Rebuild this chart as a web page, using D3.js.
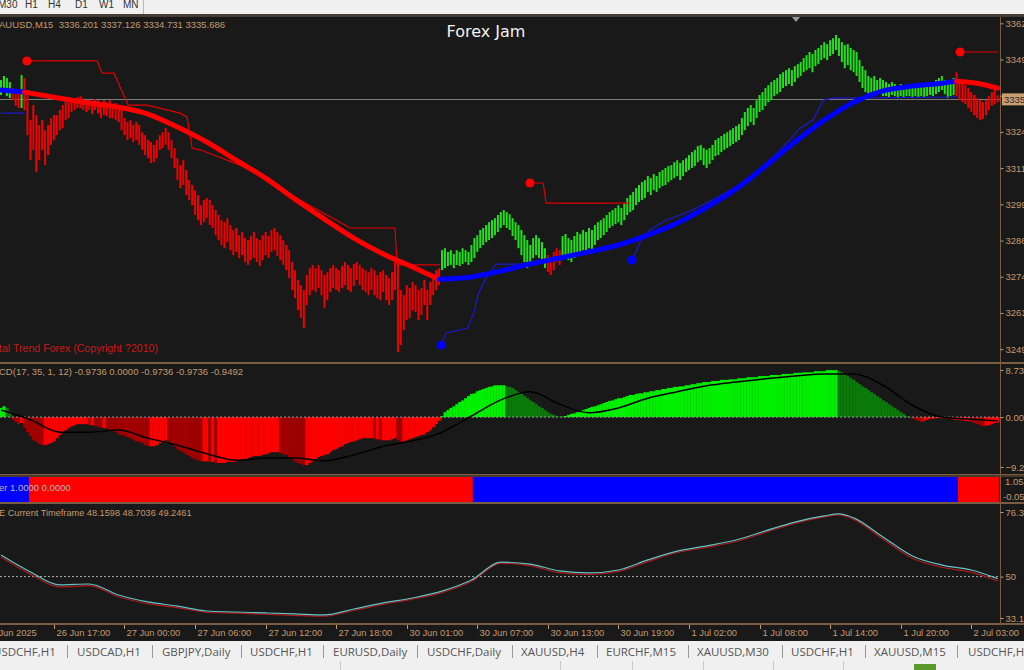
<!DOCTYPE html>
<html><head><meta charset="utf-8">
<script src="https://cdn.jsdelivr.net/npm/d3@7"></script>
<style>body{margin:0;background:#f0f0f0;overflow:hidden}svg{display:block}</style>
</head><body><svg id="c" width="1024" height="670"></svg>
<script>
// ---------------- DATA ----------------
const symbolInfo = "AUUSD,M15  3336.201 3337.126 3334.731 3335.686";
const lastPrice = 3335.686;
const barHigh = [3342.4,3343.8,3343.1,3341.7,3339.6,3338.2,3338.9,3344.1,3343.1,3337.2,
3328.5,3333.7,3330.2,3326.8,3328.5,3325.0,3326.8,3329.2,3330.2,3330.2,
3332.0,3333.7,3335.4,3334.7,3336.1,3335.8,3336.5,3336.8,3336.1,3335.4,
3335.4,3334.7,3335.8,3335.4,3334.4,3335.4,3334.7,3335.4,3334.1,3334.4,
3333.7,3332.0,3329.2,3327.8,3328.5,3326.8,3327.8,3326.8,3324.3,3323.3,
3321.6,3320.9,3319.9,3321.6,3323.3,3324.3,3325.7,3324.3,3321.6,3318.8,
3315.3,3312.9,3314.6,3311.2,3307.7,3306.0,3304.2,3302.5,3299.0,3300.8,
3301.5,3300.8,3299.0,3297.3,3295.6,3293.8,3293.1,3294.5,3292.1,3290.4,
3291.1,3288.6,3289.7,3287.6,3286.9,3288.3,3289.7,3287.6,3286.9,3288.6,
3289.7,3288.3,3290.4,3291.1,3289.7,3288.6,3286.9,3285.2,3283.4,3279.3,
3276.5,3273.1,3271.3,3269.6,3274.8,3277.2,3278.3,3277.2,3278.3,3276.5,
3274.8,3275.8,3277.2,3278.3,3277.2,3276.5,3277.9,3279.3,3278.3,3277.2,
3278.6,3279.3,3278.3,3277.2,3276.5,3275.8,3277.2,3276.5,3274.8,3275.8,
3276.5,3274.8,3273.7,3275.8,3279.3,3280.0,3269.6,3267.8,3271.3,3270.3,
3272.4,3271.3,3269.6,3270.3,3273.1,3269.6,3272.4,3274.8,3276.5,3277.2,
3283.4,3284.1,3282.8,3283.4,3282.1,3283.4,3282.8,3284.1,3283.4,3282.8,
3285.2,3287.6,3288.6,3290.4,3291.1,3292.1,3293.1,3293.8,3294.5,3295.6,
3296.6,3297.3,3296.6,3295.9,3294.5,3293.1,3292.1,3290.4,3288.6,3286.9,
3285.2,3287.6,3288.6,3287.6,3286.2,3284.1,3281.7,3280.7,3282.8,3284.1,
3283.4,3288.3,3289.0,3287.6,3286.9,3288.3,3289.7,3289.0,3290.4,3289.7,
3291.1,3290.4,3292.1,3293.1,3293.8,3294.5,3295.6,3296.6,3297.3,3298.0,
3299.0,3298.0,3299.7,3301.5,3302.5,3303.6,3304.9,3306.0,3307.0,3307.7,
3309.1,3308.4,3309.8,3309.1,3310.5,3311.2,3311.9,3312.6,3312.9,3313.9,
3314.6,3313.6,3314.6,3315.3,3316.4,3317.4,3318.2,3319.5,3319.9,3318.8,
3318.2,3318.8,3319.9,3321.6,3322.3,3323.0,3323.7,3324.3,3325.0,3325.7,
3326.4,3327.1,3329.2,3331.3,3332.7,3333.7,3332.7,3335.4,3337.2,3338.2,
3339.6,3340.6,3341.7,3342.4,3343.1,3344.4,3345.1,3345.8,3346.5,3345.8,
3347.2,3347.9,3348.6,3350.0,3351.0,3352.1,3351.4,3352.8,3353.5,3354.5,
3355.5,3354.8,3356.2,3356.9,3358.0,3356.9,3355.5,3354.5,3354.8,3353.5,
3352.8,3352.1,3349.3,3347.2,3345.8,3343.8,3343.1,3343.8,3342.4,3343.1,
3342.4,3341.7,3341.0,3341.7,3341.0,3340.3,3341.0,3340.3,3340.6,3341.0,
3340.3,3341.0,3340.6,3341.0,3340.3,3340.6,3341.3,3341.0,3342.4,3343.1,
3343.8,3342.4,3341.0,3342.4,3343.1,3345.1,3342.4,3341.7,3340.6,3339.6,
3338.2,3337.2,3336.1,3335.4,3334.7,3335.4,3336.8,3338.2,3338.9,3337.1];
const barLow = [3337.2,3338.2,3336.8,3336.1,3335.4,3333.4,3332.7,3332.7,3332.0,3323.3,
3314.6,3318.2,3310.5,3314.6,3318.2,3312.9,3316.4,3319.9,3321.6,3323.3,
3325.0,3325.7,3328.5,3329.2,3331.3,3332.0,3332.7,3332.7,3332.0,3331.3,
3332.0,3330.6,3332.0,3330.9,3329.2,3330.2,3329.9,3329.2,3329.2,3328.5,
3327.8,3325.0,3323.3,3321.6,3322.3,3320.9,3321.6,3319.9,3318.2,3316.4,
3315.3,3313.6,3313.9,3315.3,3318.2,3318.8,3319.9,3318.2,3315.3,3311.9,
3307.7,3304.9,3306.0,3302.5,3300.8,3299.0,3295.6,3293.8,3292.1,3293.1,
3294.5,3292.1,3291.1,3288.6,3286.9,3285.2,3284.1,3286.2,3283.4,3281.7,
3282.8,3280.7,3281.7,3279.3,3278.3,3280.0,3280.7,3279.3,3277.9,3280.0,
3281.7,3280.7,3282.8,3283.4,3281.4,3280.0,3278.3,3276.5,3273.7,3269.6,
3266.8,3262.6,3259.9,3256.4,3264.4,3267.8,3269.6,3268.9,3270.3,3267.8,
3263.3,3266.1,3268.9,3270.3,3269.6,3268.9,3270.3,3271.3,3269.6,3268.9,
3271.0,3273.1,3271.3,3269.6,3268.9,3267.8,3269.6,3267.8,3266.8,3266.1,
3268.9,3266.1,3264.4,3266.1,3269.6,3248.1,3250.5,3255.7,3259.2,3259.9,
3262.6,3262.0,3259.2,3260.9,3264.4,3259.2,3264.4,3267.8,3269.6,3271.3,
3276.5,3277.2,3277.9,3278.3,3277.2,3278.3,3277.9,3278.6,3279.3,3278.3,
3279.3,3280.7,3282.8,3284.1,3285.2,3286.2,3286.9,3287.6,3288.6,3289.7,
3291.1,3292.1,3291.1,3290.4,3288.3,3286.9,3284.1,3281.7,3279.3,3277.2,
3278.3,3280.7,3281.7,3280.7,3279.3,3277.2,3275.8,3274.8,3276.5,3279.3,
3278.3,3280.7,3281.7,3280.0,3279.3,3280.7,3282.1,3282.8,3283.4,3282.8,
3284.1,3283.4,3285.2,3286.9,3287.6,3288.6,3289.7,3291.1,3291.8,3292.5,
3293.1,3292.1,3293.8,3295.6,3296.6,3297.3,3299.0,3300.1,3300.8,3301.5,
3303.6,3302.5,3304.2,3303.6,3304.9,3305.6,3306.0,3307.0,3307.7,3308.4,
3309.1,3307.7,3309.1,3310.5,3311.2,3311.9,3312.6,3313.9,3314.6,3312.9,
3311.9,3313.3,3314.6,3316.0,3316.4,3317.4,3318.2,3318.8,3319.5,3320.2,
3320.9,3321.6,3323.3,3325.0,3326.4,3327.8,3326.8,3329.2,3331.3,3332.0,
3333.4,3334.7,3335.4,3336.8,3337.5,3338.2,3339.6,3340.3,3341.0,3340.3,
3341.7,3343.1,3343.8,3345.1,3345.8,3346.5,3345.1,3347.2,3347.9,3349.3,
3350.0,3349.3,3350.7,3351.4,3352.8,3350.7,3348.6,3346.5,3347.6,3345.8,
3345.1,3343.8,3341.7,3339.6,3338.2,3336.8,3337.2,3337.9,3337.2,3337.5,
3336.8,3336.8,3336.5,3337.2,3336.8,3336.1,3336.8,3336.5,3336.8,3336.8,
3336.1,3336.8,3336.5,3336.8,3336.5,3336.8,3337.2,3336.8,3337.5,3338.2,
3338.9,3337.5,3336.1,3336.8,3337.2,3336.8,3335.4,3334.7,3334.1,3332.7,
3331.3,3330.2,3329.2,3328.5,3328.9,3330.2,3332.0,3333.4,3334.0,3334.7];
// bar trend colour runs [from, to, dir]
const barTrend = [[0,3,"up"],[4,6,"dn"],[7,7,"up"],[8,149,"dn"],[150,185,"up"],[186,190,"dn"],[191,324,"up"],[325,339,"dn"]];
// moving average (thick line)
const maIdx = [0,8,20,30,40,50,60,70,80,90,100,110,120,130,140,149,160,170,180,190,200,210,220,230,240,250,260,270,280,290,300,310,320,325,332,339];
const maVal = [3338.9,3338.2,3336.1,3334.4,3333.0,3330.6,3326.1,3320.9,3314.6,3308.4,3301.1,3294.2,3287.6,3282.1,3277.6,3273.3,3274.1,3276.2,3278.6,3280.7,3282.8,3285.2,3288.6,3292.8,3298.3,3304.6,3312.6,3320.9,3328.5,3334.7,3338.6,3340.3,3341.3,3342.0,3341.3,3339.6];
const maTrend = [[0,8,"up"],[8,149,"dn"],[149,325,"up"],[325,339,"dn"]];
// trailing stop lines
const redStop1Idx = [8.8,32.7,34.4,38.4,43.2,49.7,60.9,63.3,65.0,67.7,81.3,89.8,101.7,115.3,118.7,134.0,134.7,149.3];
const redStop1Val = [3349.0,3349.0,3344.8,3344.8,3333.7,3333.7,3330.9,3329.5,3318.8,3318.2,3312.9,3308.4,3300.8,3293.1,3291.1,3291.1,3278.3,3278.3];
const redStop2Idx = [179.9,184.4,185.4,213.9];
const redStop2Val = [3306.7,3306.7,3299.7,3299.7];
const redStop3Idx = [326.2,339.1];
const redStop3Val = [3352.1,3352.1];
const blueStop1Idx = [0,8.2];
const blueStop1Val = [3330.9,3330.9];
const blueStop2Idx = [149.7,151.4,158.8,160.9,162.2,164.6,167.0,168.4,179.3];
const blueStop2Val = [3250.5,3254.7,3256.4,3262.0,3267.9,3273.1,3276.5,3278.6,3278.6];
const blueStop3Idx = [214.6,217.3,220.7,225.9,234.4,244.6,254.8,265.0,271.8,276.2,279.6,283.0,325.5];
const blueStop3Val = [3280.0,3285.9,3290.4,3293.6,3297.0,3302.2,3308.4,3318.1,3325.7,3328.5,3335.4,3336.1,3336.5];
const priceTicks = [3362.05,3349.50,3336.95,3324.40,3311.85,3299.30,3286.75,3274.20,3261.65,3249.10];
// MACD histogram per bar
const macdHist = [1.7,2.0,1.7,1.0,-0.5,-0.9,-1.3,-1.1,-2.0,-2.8,
-3.5,-4.3,-4.6,-5.0,-5.2,-5.2,-5.0,-4.8,-4.5,-3.9,
-3.3,-2.8,-2.4,-2.0,-1.7,-1.5,-1.3,-1.3,-1.3,-1.3,
-1.5,-1.5,-1.7,-1.8,-2.0,-2.0,-2.2,-2.4,-2.6,-2.8,
-3.2,-3.3,-3.5,-3.7,-3.9,-4.3,-4.5,-4.6,-4.8,-5.2,
-5.4,-5.4,-5.4,-5.2,-4.8,-4.5,-4.3,-4.5,-4.8,-5.4,
-5.9,-6.3,-6.5,-6.9,-7.2,-7.6,-7.8,-8.0,-8.2,-8.2,
-8.2,-8.3,-8.3,-8.5,-8.5,-8.5,-8.5,-8.3,-8.3,-8.3,
-8.2,-8.0,-7.8,-7.8,-7.6,-7.4,-7.2,-7.2,-7.2,-7.0,
-6.9,-6.7,-6.5,-6.5,-6.5,-6.7,-6.9,-7.0,-7.4,-7.8,
-8.2,-8.5,-8.7,-8.9,-8.9,-8.5,-8.2,-7.8,-7.4,-7.2,
-7.0,-6.9,-6.5,-6.1,-5.9,-5.6,-5.4,-5.0,-4.8,-4.6,
-4.5,-4.3,-4.1,-3.9,-3.9,-3.9,-3.9,-4.1,-4.1,-4.3,
-4.3,-4.3,-4.3,-4.1,-3.9,-4.3,-4.6,-4.5,-4.3,-4.1,
-3.9,-3.7,-3.5,-3.3,-3.2,-2.8,-2.4,-1.9,-1.3,-0.7,
0.2,0.9,1.3,1.7,2.0,2.4,2.8,3.1,3.5,3.9,
4.3,4.4,4.8,5.0,5.2,5.4,5.6,5.7,5.9,5.9,
5.9,5.9,5.7,5.6,5.4,5.0,4.6,4.3,3.9,3.5,
3.1,2.8,2.4,2.0,1.7,1.3,0.9,0.6,0.4,0.2,
0.1,0.1,0.2,0.4,0.6,0.7,0.9,1.1,1.3,1.5,
1.7,1.9,2.0,2.2,2.4,2.6,2.8,3.0,3.1,3.3,
3.5,3.5,3.7,3.9,4.1,4.1,4.3,4.4,4.4,4.6,
4.6,4.8,4.8,5.0,5.0,5.2,5.2,5.4,5.4,5.6,
5.6,5.7,5.7,5.9,5.9,6.1,6.1,6.3,6.3,6.5,
6.5,6.5,6.7,6.7,6.7,6.9,6.9,6.9,7.0,7.0,
7.0,7.2,7.2,7.2,7.4,7.4,7.4,7.4,7.6,7.6,
7.6,7.6,7.8,7.8,7.8,7.8,8.0,8.0,8.0,8.0,
8.2,8.2,8.2,8.3,8.3,8.3,8.3,8.5,8.5,8.5,
8.5,8.7,8.7,8.7,8.7,8.5,8.3,8.0,7.6,7.2,
6.9,6.5,6.1,5.7,5.4,5.0,4.6,4.3,3.9,3.5,
3.1,2.8,2.4,2.0,1.7,1.3,0.9,0.6,0.2,0.1,
-0.3,-0.5,-0.7,-0.9,-0.7,-0.5,-0.3,-0.3,-0.2,-0.2,
-0.2,-0.2,-0.3,-0.3,-0.5,-0.5,-0.5,-0.7,-0.7,-0.7,
-0.9,-1.1,-1.3,-1.5,-1.7,-1.6,-1.5,-1.3,-1.1,-1.0];
const sigIdx = [0,10,20,30,40,50,60,70,80,90,100,110,120,130,140,150,160,170,180,190,200,210,220,230,240,250,260,270,280,290,300,310,320,330,339];
const sigVal = [1.3,-0.5,-2.8,-2.8,-2.4,-3.9,-5.2,-6.8,-8.0,-7.6,-7.6,-8.1,-7.0,-5.4,-4.4,-2.8,0.2,3.2,4.7,2.4,0.8,1.7,3.5,4.7,5.8,6.5,7.1,7.6,8.0,8.0,5.9,2.2,0.0,-0.4,-0.7];
const macdTicks = [8.73,0.00,-9.25];
const macdLabel = "CD(17, 35, 1, 12) -0.9736 0.0000 -0.9736 -0.9736 -0.9492";
// trend filter panel runs
const filterRuns = [[0,9,"blue"],[10,160,"red"],[161,325,"blue"],[326,339,"red"]];
const filterLabel = "er 1.0000 0.0000";
// oscillator
const oscIdx = [0,10,20,30,40,50,60,70,80,90,100,110,120,130,140,150,160,170,180,190,200,210,220,230,240,250,260,270,280,285,290,300,310,320,330,339];
const oscCyan = [58.8,51.9,46.6,47.0,42.5,39.7,38.0,36.0,35.6,35.2,34.8,34.4,36.8,39.3,41.3,44.1,48.6,55.9,55.1,52.3,51.5,52.7,56.8,60.4,62.5,64.9,68.6,72.2,74.7,75.5,73.9,66.1,58.4,54.7,52.7,49.2];
const oscRed = [58.0,51.0,45.8,46.3,41.8,39.0,37.4,35.5,35.1,34.7,34.2,33.9,36.2,38.7,40.8,43.5,48.0,55.4,54.5,51.6,50.9,52.1,56.1,59.8,61.9,64.3,68.0,71.7,74.3,75.1,73.3,65.3,57.5,53.8,51.8,48.2];
const oscLabel = "E Current Timeframe 48.1598 48.7036 49.2461";
// time axis
const timeIdx = [-6,18,42,66,90,114,138,162,186,210,234,258,282,306,330];
const timeLabels = ["26 Jun 2025","26 Jun 17:00","27 Jun 00:00","27 Jun 06:00","27 Jun 12:00","27 Jun 18:00","30 Jun 01:00","30 Jun 07:00","30 Jun 13:00","30 Jun 19:00","1 Jul 02:00","1 Jul 08:00","1 Jul 14:00","1 Jul 20:00","2 Jul 03:00"];
const toolbarItems = ["M30","H1","H4","D1","W1","MN"];
const tabNames = ["USDCHF,H1","USDCAD,H1","GBPJPY,Daily","USDCHF,H1","EURUSD,Daily","USDCHF,Daily","XAUUSD,H4","EURCHF,M15","XAUUSD,M30","USDCHF,H1","XAUUSD,M15","USDCHF,H1"];

// ---------------- DRAW ----------------
const svg = d3.select("#c");
const FONT = "'Liberation Sans', Arial, sans-serif";
const TAN = "#c39a6e", BORDER = "#7a5c42", BG = "#191919";
const n = barHigh.length;
const x = d3.scaleLinear().domain([0, n-1]).range([1, 997.7]);
const step = x(1)-x(0);
const yP = d3.scaleLinear().domain([3249.5, 3362.5]).range([348, 22]);
const yM = d3.scaleLinear().domain([-9.25, 8.73]).range([467, 370]);
const yO = d3.scaleLinear().domain([33.15, 76.30]).range([618, 512]);

svg.append("rect").attr("width",1024).attr("height",670).attr("fill","#f0f0f0");
svg.append("rect").attr("x",0).attr("y",14).attr("width",1024).attr("height",627).attr("fill",BG);
svg.append("rect").attr("x",0).attr("y",14).attr("width",1024).attr("height",3).attr("fill","#463b33");

// toolbar
const tbx = [-2,25,48,75,99,123];
svg.selectAll("text.tb").data(toolbarItems).join("text").attr("class","tb")
  .attr("x",(d,i)=>tbx[i]).attr("y",8).attr("font-family",FONT).attr("font-size",10).attr("fill","#333").text(d=>d);
svg.append("line").attr("x1",143.5).attr("x2",143.5).attr("y1",0).attr("y2",14).attr("stroke","#b8b8b8");

const defs = svg.append("defs");
function clip(id,y0,y1){defs.append("clipPath").attr("id",id).append("rect").attr("x",0).attr("y",y0).attr("width",1000).attr("height",y1-y0);}
clip("cp",17,362); clip("cm",365,472); clip("cf",477,502); clip("co",504,623);

// panel borders
[[362.5,363.5],[474.5],[476],[502.5],[503.5],[623.5],[624.5]].forEach(a=>a.forEach(y=>{
  svg.append("line").attr("x1",0).attr("x2",1024).attr("y1",y).attr("y2",y).attr("stroke",BORDER).attr("stroke-width",1);
}));
svg.append("line").attr("x1",1000.5).attr("x2",1000.5).attr("y1",17).attr("y2",625).attr("stroke",BORDER);

// ---- price panel
const gp = svg.append("g").attr("clip-path","url(#cp)");
gp.append("line").attr("x1",0).attr("x2",1000).attr("y1",Math.round(yP(lastPrice))+0.5).attr("y2",Math.round(yP(lastPrice))+0.5).attr("stroke","#7c7c7c");
const trendOf = (i,runs)=>{for(const r of runs) if(i>=r[0]&&i<=r[1]) return r[2]; return "dn";};
gp.selectAll("rect.bar").data(d3.range(n)).join("rect").attr("class","bar")
  .attr("x",i=>x(i)-1).attr("width",2)
  .attr("y",i=>yP(barHigh[i])).attr("height",i=>Math.max(1,yP(barLow[i])-yP(barHigh[i])))
  .attr("fill",i=>trendOf(i,barTrend)==="up"?"#22e01c":"#f00000");
// thin stop lines
const lineP = d3.line().x(d=>x(d[0])).y(d=>yP(d[1]));
function stop(idx,val,color,dot){
  const pts = idx.map((d,i)=>[d,val[i]]);
  gp.append("path").attr("d",lineP(pts)).attr("fill","none").attr("stroke",color).attr("stroke-width",1.2);
  if(dot) gp.append("circle").attr("cx",x(pts[0][0])).attr("cy",yP(pts[0][1])).attr("r",4.5).attr("fill",color==="#e00000"?"#ff0000":"#0000ff");
}
stop(redStop1Idx,redStop1Val,"#e00000",true);
stop(redStop2Idx,redStop2Val,"#e00000",true);
stop(redStop3Idx,redStop3Val,"#e00000",true);
stop(blueStop1Idx,blueStop1Val,"#1a1ad0",false);
stop(blueStop2Idx,blueStop2Val,"#1a1ad0",true);
stop(blueStop3Idx,blueStop3Val,"#1a1ad0",true);
// thick MA
const maLine = d3.line().x(d=>x(d[0])).y(d=>yP(d[1])).curve(d3.curveMonotoneX);
maTrend.forEach(r=>{
  const pts = maIdx.map((d,i)=>[d,maVal[i]]).filter(p=>p[0]>=r[0]&&p[0]<=r[1]);
  gp.append("path").attr("d",maLine(pts)).attr("fill","none").attr("stroke",r[2]==="up"?"#0000ff":"#ff0000").attr("stroke-width",5).attr("stroke-linecap","round");
});
// texts
svg.append("text").attr("x",-1).attr("y",28).attr("font-family",FONT).attr("font-size",9.5).attr("fill",TAN).attr("xml:space","preserve").text(symbolInfo);
svg.append("text").attr("x",486).attr("y",37).attr("text-anchor","middle").attr("font-family","'DejaVu Sans', sans-serif").attr("font-size",16).attr("fill","#f2f2f2").text("Forex Jam");
svg.append("text").attr("x",-1).attr("y",352).attr("font-family",FONT).attr("font-size",10.6).attr("fill","#c81818").text("tal Trend Forex (Copyright ?2010)");
svg.append("path").attr("d","M792,17 L800,17 L796,22 Z").attr("fill","#9a9a9a");
// price axis (the tick hidden behind the last-price box keeps its mark but no label)
const boxY = yP(lastPrice);
const ay = d3.axisRight(yP).tickValues(priceTicks).tickSize(3)
  .tickFormat(d=>Math.abs(yP(d)-boxY)<9?"":d3.format(".2f")(d));
const gay = svg.append("g").attr("transform","translate(1000.5,0)").call(ay);
gay.select(".domain").remove();
gay.selectAll("line").attr("stroke",TAN);
gay.selectAll("text").attr("fill",TAN).attr("font-family",FONT).attr("font-size",9.5).attr("x",5);
// last price box
svg.append("rect").attr("x",1002).attr("y",boxY-6).attr("width",24).attr("height",12).attr("fill","#c8a070");
svg.append("text").attr("x",1004).attr("y",boxY+3.5).attr("font-family",FONT).attr("font-size",9.5).attr("fill","#2a2a2a").text(lastPrice.toFixed(2));

// ---- MACD panel
const gm = svg.append("g").attr("clip-path","url(#cm)");
gm.selectAll("rect.h").data(d3.range(n)).join("rect").attr("class","h")
  .attr("x",i=>x(i)-step/2).attr("width",step+0.3)
  .attr("y",i=>Math.min(yM(0),yM(macdHist[i]))).attr("height",i=>Math.abs(yM(macdHist[i])-yM(0)))
  .attr("fill",i=>{const v=macdHist[i], p=i>0?macdHist[i-1]:v; const rising=v>=p;
     if(v>=0) return rising?"#00f000":"#0a7a0a"; return rising?"#ff0000":"#a00000";});
gm.append("line").attr("x1",0).attr("x2",1000).attr("y1",yM(0)).attr("y2",yM(0)).attr("stroke","#9a9a9a").attr("stroke-dasharray","2,2");
const sigLine = d3.line().x(d=>x(d[0])).y(d=>yM(d[1])).curve(d3.curveMonotoneX);
gm.append("path").attr("d",sigLine(sigIdx.map((d,i)=>[d,sigVal[i]]))).attr("fill","none").attr("stroke","#000").attr("stroke-width",1.5);
svg.append("text").attr("x",-1).attr("y",375).attr("font-family",FONT).attr("font-size",9.5).attr("fill",TAN).text(macdLabel);
const am = d3.axisRight(yM).tickValues(macdTicks).tickSize(3).tickFormat(d3.format(".2f"));
const gam = svg.append("g").attr("transform","translate(1000.5,0)").call(am);
gam.select(".domain").remove(); gam.selectAll("line").attr("stroke",TAN);
gam.selectAll("text").attr("fill",TAN).attr("font-family",FONT).attr("font-size",9.5).attr("x",5);

// ---- filter panel
const gf = svg.append("g").attr("clip-path","url(#cf)");
filterRuns.forEach(r=>{
  gf.append("rect").attr("x",x(r[0])-step/2).attr("width",x(r[1])-x(r[0])+step).attr("y",477).attr("height",25)
   .attr("fill",r[2]==="blue"?"#0000ff":"#ff0000");
});
svg.append("text").attr("x",-1).attr("y",491).attr("font-family",FONT).attr("font-size",9.5).attr("fill","#b8b8b8").text(filterLabel);
svg.append("text").attr("x",1005).attr("y",485).attr("font-family",FONT).attr("font-size",9.5).attr("fill",TAN).text("1.05");
svg.append("text").attr("x",1003).attr("y",500).attr("font-family",FONT).attr("font-size",9.5).attr("fill",TAN).text("-0.05");

// ---- oscillator panel
const go = svg.append("g").attr("clip-path","url(#co)");
go.append("line").attr("x1",0).attr("x2",1000).attr("y1",yO(50)).attr("y2",yO(50)).attr("stroke","#b0b0b0").attr("stroke-dasharray","2,2");
const oLine = d3.line().x(d=>x(d[0])).y(d=>yO(d[1])).curve(d3.curveMonotoneX);
go.append("path").attr("d",oLine(oscIdx.map((d,i)=>[d,oscRed[i]]))).attr("fill","none").attr("stroke","#b01a1a").attr("stroke-width",1.2);
go.append("path").attr("d",oLine(oscIdx.map((d,i)=>[d,oscCyan[i]]))).attr("fill","none").attr("stroke","#62c4c8").attr("stroke-width",1.2);
svg.append("text").attr("x",-1).attr("y",516).attr("font-family",FONT).attr("font-size",9.2).attr("fill",TAN).text(oscLabel);
const ao = d3.axisRight(yO).tickValues([76.30,50,33.15]).tickSize(3).tickFormat(d=>d===50?"50":d.toFixed(2));
const gao = svg.append("g").attr("transform","translate(1000.5,0)").call(ao);
gao.select(".domain").remove(); gao.selectAll("line").attr("stroke",TAN);
gao.selectAll("text").attr("fill",TAN).attr("font-family",FONT).attr("font-size",9.5).attr("x",5);

// ---- time axis
const at = svg.append("g");
timeIdx.forEach((d,i)=>{
  const xx = Math.round(x(d))+0.5;
  at.append("line").attr("x1",xx).attr("x2",xx).attr("y1",625).attr("y2",629).attr("stroke",TAN);
  at.append("text").attr("x",xx+2).attr("y",636).attr("font-family",FONT).attr("font-size",9.3).attr("fill",TAN).text(timeLabels[i]);
});

// ---- tabs
svg.append("rect").attr("x",0).attr("y",641).attr("width",1024).attr("height",29).attr("fill","#f0f0f0");
const tabX = [-7,77,162,250,333,427,521,606,697,791,874,968];
const sepX = [67,152,241,323,417,512,597,688,782,865,957];
svg.selectAll("text.tab").data(tabNames).join("text").attr("class","tab").attr("x",(d,i)=>tabX[i]).attr("y",656)
  .attr("font-family","'Open Sans', sans-serif").attr("font-size",11.5).attr("fill","#555").text(d=>d);
sepX.forEach(s=>svg.append("line").attr("x1",s+0.5).attr("x2",s+0.5).attr("y1",645).attr("y2",658).attr("stroke","#999"));
[340,560,632,703,773,843].forEach(s=>svg.append("line").attr("x1",s+0.5).attr("x2",s+0.5).attr("y1",661).attr("y2",670).attr("stroke","#c8c8c8"));
svg.append("rect").attr("x",914).attr("y",664).attr("width",22).attr("height",6).attr("fill","#5a9a2a");
</script></body></html>
